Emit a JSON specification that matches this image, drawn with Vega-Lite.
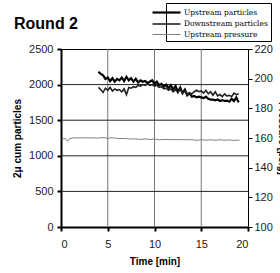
{
  "$schema": "https://vega.github.io/schema/vega-lite/v6.json",
  "autosize": {"type": "fit", "contains": "padding"},
  "width": 280,
  "height": 273,
  "padding": {"left": 12, "top": 16, "right": -7, "bottom": 7},
  "background": "white",
  "title": {
    "text": "Round 2",
    "anchor": "start",
    "frame": "group",
    "dx": -47,
    "offset": -2,
    "baseline": "alphabetic",
    "font": "Liberation Sans",
    "fontSize": 16,
    "fontWeight": "bold",
    "color": "black"
  },
  "config": {
    "view": {"stroke": "black", "strokeWidth": 1},
    "axis": {
      "labelFont": "Liberation Sans",
      "labelFontSize": 11,
      "labelColor": "#222",
      "titleFont": "Liberation Sans",
      "titleFontSize": 10,
      "titleFontWeight": "bold",
      "titleColor": "black",
      "domainColor": "black",
      "tickColor": "black",
      "grid": false
    },
    "axisX": {"domainWidth": 2, "tickSize": 4, "tickWidth": 2, "labelPadding": 7, "titlePadding": 7, "tickCount": 4},
    "axisLeft": {"domainWidth": 2, "tickSize": 4, "tickWidth": 2, "labelPadding": 4, "titlePadding": 6, "tickCount": 5},
    "axisRight": {"domain": false, "tickSize": 4, "labelPadding": 2, "titlePadding": 4, "tickCount": 6},
    "legend": {
      "orient": "none",
      "legendX": 105,
      "legendY": -46,
      "fillColor": "white",
      "strokeColor": "black",
      "padding": 3,
      "labelFont": "DejaVu Serif",
      "labelFontSize": 7.5,
      "labelColor": "black",
      "symbolType": "M-4.6,0H1",
      "symbolSize": 100,
      "rowPadding": 1,
      "labelOffset": 2
    }
  },
  "data": {
    "values": [
      {"t": 4.0, "v": 2180, "s": "Upstream particles"},
      {"t": 4.25, "v": 2150, "s": "Upstream particles"},
      {"t": 4.5, "v": 2130, "s": "Upstream particles"},
      {"t": 4.75, "v": 2080, "s": "Upstream particles"},
      {"t": 5.0, "v": 2100, "s": "Upstream particles"},
      {"t": 5.25, "v": 2050, "s": "Upstream particles"},
      {"t": 5.5, "v": 2090, "s": "Upstream particles"},
      {"t": 5.75, "v": 2040, "s": "Upstream particles"},
      {"t": 6.0, "v": 2080, "s": "Upstream particles"},
      {"t": 6.25, "v": 2060, "s": "Upstream particles"},
      {"t": 6.5, "v": 2100, "s": "Upstream particles"},
      {"t": 6.75, "v": 2050, "s": "Upstream particles"},
      {"t": 7.0, "v": 2110, "s": "Upstream particles"},
      {"t": 7.25, "v": 2060, "s": "Upstream particles"},
      {"t": 7.5, "v": 2090, "s": "Upstream particles"},
      {"t": 7.75, "v": 2040, "s": "Upstream particles"},
      {"t": 8.0, "v": 2080, "s": "Upstream particles"},
      {"t": 8.25, "v": 2030, "s": "Upstream particles"},
      {"t": 8.5, "v": 2060, "s": "Upstream particles"},
      {"t": 8.75, "v": 2040, "s": "Upstream particles"},
      {"t": 9.0, "v": 2050, "s": "Upstream particles"},
      {"t": 9.25, "v": 2020, "s": "Upstream particles"},
      {"t": 9.5, "v": 2040, "s": "Upstream particles"},
      {"t": 9.75, "v": 2060, "s": "Upstream particles"},
      {"t": 10.0, "v": 2010, "s": "Upstream particles"},
      {"t": 10.25, "v": 2040, "s": "Upstream particles"},
      {"t": 10.5, "v": 1990, "s": "Upstream particles"},
      {"t": 10.75, "v": 2010, "s": "Upstream particles"},
      {"t": 11.0, "v": 1970, "s": "Upstream particles"},
      {"t": 11.25, "v": 2000, "s": "Upstream particles"},
      {"t": 11.5, "v": 1950, "s": "Upstream particles"},
      {"t": 11.75, "v": 1990, "s": "Upstream particles"},
      {"t": 12.0, "v": 1930, "s": "Upstream particles"},
      {"t": 12.25, "v": 1980, "s": "Upstream particles"},
      {"t": 12.5, "v": 1900, "s": "Upstream particles"},
      {"t": 12.75, "v": 1960, "s": "Upstream particles"},
      {"t": 13.0, "v": 1880, "s": "Upstream particles"},
      {"t": 13.25, "v": 1930, "s": "Upstream particles"},
      {"t": 13.5, "v": 1850, "s": "Upstream particles"},
      {"t": 13.75, "v": 1880, "s": "Upstream particles"},
      {"t": 14.0, "v": 1830, "s": "Upstream particles"},
      {"t": 14.25, "v": 1840, "s": "Upstream particles"},
      {"t": 14.5, "v": 1820, "s": "Upstream particles"},
      {"t": 14.75, "v": 1830, "s": "Upstream particles"},
      {"t": 15.0, "v": 1820, "s": "Upstream particles"},
      {"t": 15.25, "v": 1810, "s": "Upstream particles"},
      {"t": 15.5, "v": 1830, "s": "Upstream particles"},
      {"t": 15.75, "v": 1800, "s": "Upstream particles"},
      {"t": 16.0, "v": 1790, "s": "Upstream particles"},
      {"t": 16.25, "v": 1790, "s": "Upstream particles"},
      {"t": 16.5, "v": 1780, "s": "Upstream particles"},
      {"t": 16.75, "v": 1790, "s": "Upstream particles"},
      {"t": 17.0, "v": 1770, "s": "Upstream particles"},
      {"t": 17.25, "v": 1780, "s": "Upstream particles"},
      {"t": 17.5, "v": 1770, "s": "Upstream particles"},
      {"t": 17.75, "v": 1775, "s": "Upstream particles"},
      {"t": 18.0, "v": 1760, "s": "Upstream particles"},
      {"t": 18.25, "v": 1800, "s": "Upstream particles"},
      {"t": 18.5, "v": 1770, "s": "Upstream particles"},
      {"t": 18.75, "v": 1820, "s": "Upstream particles"},
      {"t": 19.0, "v": 1750, "s": "Upstream particles"},
      {"t": 4.0, "v": 1960, "s": "Downstream particles"},
      {"t": 4.25, "v": 1930, "s": "Downstream particles"},
      {"t": 4.5, "v": 1890, "s": "Downstream particles"},
      {"t": 4.75, "v": 1950, "s": "Downstream particles"},
      {"t": 5.0, "v": 1920, "s": "Downstream particles"},
      {"t": 5.25, "v": 1960, "s": "Downstream particles"},
      {"t": 5.5, "v": 1910, "s": "Downstream particles"},
      {"t": 5.75, "v": 1940, "s": "Downstream particles"},
      {"t": 6.0, "v": 1920, "s": "Downstream particles"},
      {"t": 6.25, "v": 1930, "s": "Downstream particles"},
      {"t": 6.5, "v": 1900, "s": "Downstream particles"},
      {"t": 6.75, "v": 1940, "s": "Downstream particles"},
      {"t": 7.0, "v": 1860, "s": "Downstream particles"},
      {"t": 7.25, "v": 1960, "s": "Downstream particles"},
      {"t": 7.5, "v": 1950, "s": "Downstream particles"},
      {"t": 7.75, "v": 1970, "s": "Downstream particles"},
      {"t": 8.0, "v": 1960, "s": "Downstream particles"},
      {"t": 8.25, "v": 1990, "s": "Downstream particles"},
      {"t": 8.5, "v": 1980, "s": "Downstream particles"},
      {"t": 8.75, "v": 2000, "s": "Downstream particles"},
      {"t": 9.0, "v": 1990, "s": "Downstream particles"},
      {"t": 9.25, "v": 2010, "s": "Downstream particles"},
      {"t": 9.5, "v": 1990, "s": "Downstream particles"},
      {"t": 9.75, "v": 2000, "s": "Downstream particles"},
      {"t": 10.0, "v": 1980, "s": "Downstream particles"},
      {"t": 10.25, "v": 1990, "s": "Downstream particles"},
      {"t": 10.5, "v": 1960, "s": "Downstream particles"},
      {"t": 10.75, "v": 1970, "s": "Downstream particles"},
      {"t": 11.0, "v": 1940, "s": "Downstream particles"},
      {"t": 11.25, "v": 1950, "s": "Downstream particles"},
      {"t": 11.5, "v": 1920, "s": "Downstream particles"},
      {"t": 11.75, "v": 1940, "s": "Downstream particles"},
      {"t": 12.0, "v": 1900, "s": "Downstream particles"},
      {"t": 12.25, "v": 1930, "s": "Downstream particles"},
      {"t": 12.5, "v": 1890, "s": "Downstream particles"},
      {"t": 12.75, "v": 1930, "s": "Downstream particles"},
      {"t": 13.0, "v": 1880, "s": "Downstream particles"},
      {"t": 13.25, "v": 1910, "s": "Downstream particles"},
      {"t": 13.5, "v": 1870, "s": "Downstream particles"},
      {"t": 13.75, "v": 1880, "s": "Downstream particles"},
      {"t": 14.0, "v": 1870, "s": "Downstream particles"},
      {"t": 14.25, "v": 1900, "s": "Downstream particles"},
      {"t": 14.5, "v": 1920, "s": "Downstream particles"},
      {"t": 14.75, "v": 1900, "s": "Downstream particles"},
      {"t": 15.0, "v": 1910, "s": "Downstream particles"},
      {"t": 15.25, "v": 1880, "s": "Downstream particles"},
      {"t": 15.5, "v": 1920, "s": "Downstream particles"},
      {"t": 15.75, "v": 1870, "s": "Downstream particles"},
      {"t": 16.0, "v": 1900, "s": "Downstream particles"},
      {"t": 16.25, "v": 1850, "s": "Downstream particles"},
      {"t": 16.5, "v": 1900, "s": "Downstream particles"},
      {"t": 16.75, "v": 1840, "s": "Downstream particles"},
      {"t": 17.0, "v": 1860, "s": "Downstream particles"},
      {"t": 17.25, "v": 1830, "s": "Downstream particles"},
      {"t": 17.5, "v": 1870, "s": "Downstream particles"},
      {"t": 17.75, "v": 1840, "s": "Downstream particles"},
      {"t": 18.0, "v": 1850, "s": "Downstream particles"},
      {"t": 18.25, "v": 1830, "s": "Downstream particles"},
      {"t": 18.5, "v": 1880, "s": "Downstream particles"},
      {"t": 18.75, "v": 1860, "s": "Downstream particles"},
      {"t": 19.0, "v": 1870, "s": "Downstream particles"},
      {"t": 0.2, "v": 159.5, "s": "Upstream pressure"},
      {"t": 0.5, "v": 159.5, "s": "Upstream pressure"},
      {"t": 0.7, "v": 157.8, "s": "Upstream pressure"},
      {"t": 0.9, "v": 159.5, "s": "Upstream pressure"},
      {"t": 1.2, "v": 160.0, "s": "Upstream pressure"},
      {"t": 2.0, "v": 160.1, "s": "Upstream pressure"},
      {"t": 3.0, "v": 160.1, "s": "Upstream pressure"},
      {"t": 4.0, "v": 160.0, "s": "Upstream pressure"},
      {"t": 4.5, "v": 160.3, "s": "Upstream pressure"},
      {"t": 5.0, "v": 159.8, "s": "Upstream pressure"},
      {"t": 5.5, "v": 160.2, "s": "Upstream pressure"},
      {"t": 6.0, "v": 159.7, "s": "Upstream pressure"},
      {"t": 7.0, "v": 159.6, "s": "Upstream pressure"},
      {"t": 7.5, "v": 159.3, "s": "Upstream pressure"},
      {"t": 8.0, "v": 159.4, "s": "Upstream pressure"},
      {"t": 8.5, "v": 159.0, "s": "Upstream pressure"},
      {"t": 9.0, "v": 159.4, "s": "Upstream pressure"},
      {"t": 9.5, "v": 159.0, "s": "Upstream pressure"},
      {"t": 10.0, "v": 159.3, "s": "Upstream pressure"},
      {"t": 10.5, "v": 158.8, "s": "Upstream pressure"},
      {"t": 11.0, "v": 159.0, "s": "Upstream pressure"},
      {"t": 12.0, "v": 158.9, "s": "Upstream pressure"},
      {"t": 13.0, "v": 158.9, "s": "Upstream pressure"},
      {"t": 14.0, "v": 158.8, "s": "Upstream pressure"},
      {"t": 14.5, "v": 158.4, "s": "Upstream pressure"},
      {"t": 15.0, "v": 158.8, "s": "Upstream pressure"},
      {"t": 15.5, "v": 158.5, "s": "Upstream pressure"},
      {"t": 16.0, "v": 158.8, "s": "Upstream pressure"},
      {"t": 16.5, "v": 158.5, "s": "Upstream pressure"},
      {"t": 17.0, "v": 158.8, "s": "Upstream pressure"},
      {"t": 17.5, "v": 158.5, "s": "Upstream pressure"},
      {"t": 18.0, "v": 158.7, "s": "Upstream pressure"},
      {"t": 18.5, "v": 158.4, "s": "Upstream pressure"},
      {"t": 19.1, "v": 158.6, "s": "Upstream pressure"}
    ]
  },
  "layer": [
    {
      "layer": [
        {
          "data": {"values": [{"gx": 5}, {"gx": 10}, {"gx": 15}]},
          "mark": {"type": "rule", "color": "#777777", "strokeWidth": 1},
          "encoding": {
            "x": {"field": "gx", "type": "quantitative", "title": "Time [min]", "scale": {"domain": [0, 20], "nice": false}}
          }
        },
        {
          "data": {"values": [{"gy": 500}, {"gy": 1000}, {"gy": 1500}, {"gy": 2000}]},
          "mark": {"type": "rule", "color": "#222222", "strokeWidth": 1},
          "encoding": {
            "y": {"field": "gy", "type": "quantitative", "title": "2μ cum particles", "scale": {"domain": [0, 2500], "nice": false}, "axis": {"format": "d"}}
          }
        },
        {
          "transform": [{"filter": "datum.s !== 'Upstream pressure'"}],
          "mark": {"type": "line", "clip": true},
          "encoding": {
            "x": {"field": "t", "type": "quantitative", "title": "Time [min]", "scale": {"domain": [0, 20], "nice": false}},
            "y": {"field": "v", "type": "quantitative", "title": "2μ cum particles", "scale": {"domain": [0, 2500], "nice": false}, "axis": {"format": "d"}},
            "color": {
              "field": "s",
              "type": "nominal",
              "scale": {
                "domain": ["Upstream particles", "Downstream particles", "Upstream pressure"],
                "range": ["#000000", "#222222", "#808080"]
              },
              "legend": {"title": null}
            },
            "strokeWidth": {
              "field": "s",
              "type": "nominal",
              "scale": {
                "domain": ["Upstream particles", "Downstream particles", "Upstream pressure"],
                "range": [2.2, 1, 1]
              },
              "legend": {"title": null}
            }
          }
        }
      ]
    },
    {
      "transform": [{"filter": "datum.s === 'Upstream pressure'"}],
      "mark": {"type": "line", "clip": true},
      "encoding": {
        "x": {"field": "t", "type": "quantitative", "title": "Time [min]", "scale": {"domain": [0, 20], "nice": false}},
        "y": {
          "field": "v",
          "type": "quantitative",
          "title": "Pressure [psig]",
          "scale": {"domain": [100, 220], "nice": false},
          "axis": {"orient": "right"}
        },
        "color": {
          "field": "s",
          "type": "nominal",
          "scale": {
            "domain": ["Upstream particles", "Downstream particles", "Upstream pressure"],
            "range": ["#000000", "#222222", "#808080"]
          },
          "legend": {"title": null}
        },
        "strokeWidth": {
          "field": "s",
          "type": "nominal",
          "scale": {
            "domain": ["Upstream particles", "Downstream particles", "Upstream pressure"],
            "range": [2.2, 1, 1]
          },
          "legend": {"title": null}
        }
      }
    }
  ],
  "resolve": {"scale": {"y": "independent"}}
}
